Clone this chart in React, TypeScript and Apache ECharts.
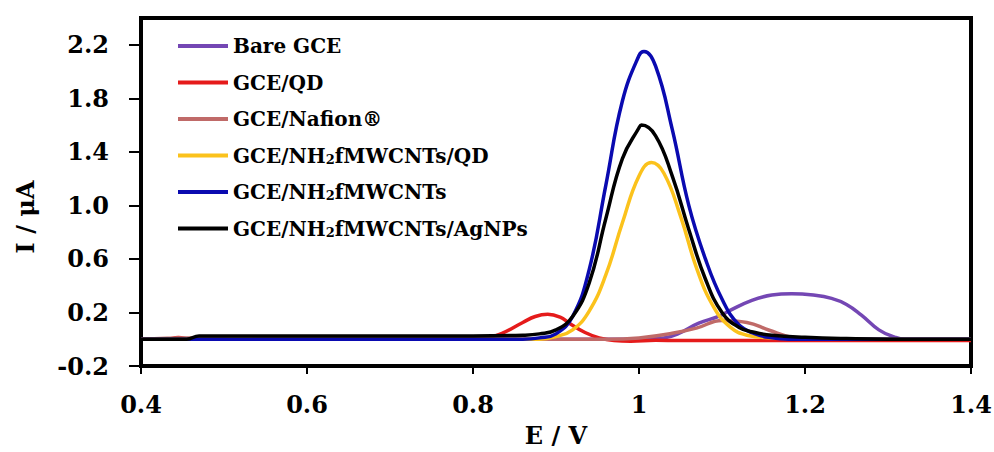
import React, { useEffect, useRef } from "react";
import * as echarts from "echarts";

// ---- Data ----
const xTicks = [0.4, 0.6, 0.8, 1.0, 1.2, 1.4];
const yTicks = [-0.2, 0.2, 0.6, 1.0, 1.4, 1.8, 2.2];

const seriesNames = [
  "Bare GCE",
  "GCE/QD",
  "GCE/Nafion®",
  "GCE/NH2fMWCNTs/QD",
  "GCE/NH2fMWCNTs",
  "GCE/NH2fMWCNTs/AgNPs",
];
const seriesColors = ["#7447b4", "#e51b1b", "#c06a68", "#fbc21c", "#0a0ab0", "#000000"];

const bareE = [0.40, 0.60, 0.80, 0.95, 1.00, 1.03, 1.048, 1.072, 1.096, 1.108, 1.136, 1.16, 1.184, 1.21, 1.232, 1.25, 1.268, 1.289, 1.308, 1.32, 1.35, 1.40];
const bareI = [0, 0, 0, 0, 0, 0.01, 0.044, 0.12, 0.17, 0.21, 0.29, 0.33, 0.34, 0.33, 0.305, 0.26, 0.18, 0.07, 0.016, 0, 0, 0];

const qdE = [0.40, 0.43, 0.445, 0.46, 0.60, 0.80, 0.82, 0.835, 0.86, 0.875, 0.89, 0.905, 0.916, 0.935, 0.952, 0.97, 0.99, 1.02, 1.05, 1.20, 1.40];
const qdI = [0, 0, 0.012, 0, 0, 0.005, 0.015, 0.044, 0.125, 0.17, 0.186, 0.165, 0.12, 0.05, 0.01, -0.01, -0.015, -0.008, -0.01, -0.01, -0.01];

const nafionE = [0.40, 0.44, 0.46, 0.48, 0.60, 0.80, 0.96, 1.00, 1.04, 1.07, 1.10, 1.13, 1.157, 1.184, 1.21, 1.40];
const nafionI = [0, 0.008, 0.01, 0, 0, 0, 0, 0.01, 0.044, 0.085, 0.14, 0.125, 0.067, 0.014, 0, 0];

const nh2QdE = [0.40, 0.50, 0.52, 0.54, 0.70, 0.88, 0.90, 0.92, 0.94, 0.96, 0.98, 1.00, 1.015, 1.03, 1.05, 1.07, 1.09, 1.11, 1.13, 1.16, 1.20, 1.40];
const nh2QdI = [0, 0, 0.012, 0, 0, 0, 0.02, 0.07, 0.21, 0.48, 0.87, 1.22, 1.32, 1.24, 0.92, 0.52, 0.24, 0.09, 0.03, 0.01, 0, 0];

const nh2E = [0.40, 0.60, 0.80, 0.86, 0.88, 0.90, 0.92, 0.94, 0.96, 0.98, 1.00, 1.006, 1.02, 1.04, 1.06, 1.08, 1.10, 1.12, 1.14, 1.16, 1.18, 1.40];
const nh2I = [0, 0, 0, 0, 0.01, 0.04, 0.17, 0.52, 1.15, 1.78, 2.12, 2.15, 2.04, 1.57, 1.0, 0.6, 0.3, 0.11, 0.04, 0.01, 0, 0];

const agE = [0.40, 0.455, 0.47, 0.60, 0.80, 0.86, 0.88, 0.90, 0.92, 0.94, 0.96, 0.98, 1.00, 1.003, 1.02, 1.04, 1.06, 1.08, 1.10, 1.12, 1.14, 1.16, 1.20, 1.25, 1.30, 1.40];
const agI = [0, 0, 0.025, 0.025, 0.025, 0.03, 0.04, 0.07, 0.17, 0.42, 0.9, 1.35, 1.58, 1.6, 1.52, 1.22, 0.82, 0.45, 0.2, 0.09, 0.05, 0.03, 0.015, 0.005, 0, 0];

const seriesE = [bareE, qdE, nafionE, nh2QdE, nh2E, agE];
const seriesI = [bareI, qdI, nafionI, nh2QdI, nh2I, agI];

const FONT = '"DejaVu Serif", "Liberation Serif", serif';

export default function App() {
  const ref = useRef<HTMLDivElement>(null);

  useEffect(() => {
    document.body.style.margin = "0";
    if (!ref.current) return;
    const chart = echarts.init(ref.current, undefined, { renderer: "svg" });

    const series = seriesNames.map((name, k) => ({
      name,
      type: "line",
      data: seriesE[k].map((e, i) => [e, seriesI[k][i]]),
      showSymbol: false,
      smooth: 0.45,
      lineStyle: { color: seriesColors[k], width: 3.5 },
      itemStyle: { color: seriesColors[k] },
      z: 2 + k,
    }));

    const option: any = {
      animation: false,
      backgroundColor: "#ffffff",
      grid: {
        left: 141,
        right: 23,
        top: 18,
        bottom: 86,
        show: true,
        borderColor: "#000",
        borderWidth: 4,
        containLabel: false,
        outerBoundsMode: "none",
      },
      legend: {
        orient: "vertical",
        left: 178,
        top: 36,
        padding: 0,
        itemWidth: 50,
        itemHeight: 4,
        itemGap: 16.5,
        icon: "rect",
        data: seriesNames,
        formatter: (n: string) => n.replace("NH2", "NH{sub|2}"),
        textStyle: {
          fontFamily: FONT,
          fontWeight: "bold",
          fontSize: 20,
          color: "#000",
          rich: {
            sub: {
              fontFamily: FONT,
              fontWeight: "bold",
              fontSize: 13,
              color: "#000",
              verticalAlign: "bottom",
              lineHeight: 13,
            },
          },
        },
      },
      xAxis: {
        type: "value",
        min: 0.4,
        max: 1.4,
        interval: 0.2,
        axisLine: { show: true, onZero: false, lineStyle: { color: "#000", width: 4 } },
        axisTick: { show: true, length: 8, customValues: xTicks, lineStyle: { color: "#000", width: 2 } },
        axisLabel: {
          customValues: xTicks,
          formatter: (v: number) => String(Math.round(v * 10) / 10),
          fontFamily: FONT,
          fontWeight: "bold",
          fontSize: 24,
          color: "#000",
          margin: 26,
        },
        splitLine: { show: false },
        name: "E / V",
        nameLocation: "middle",
        nameGap: 57,
        nameTextStyle: { fontFamily: FONT, fontWeight: "bold", fontSize: 24, color: "#000" },
      },
      yAxis: {
        type: "value",
        min: -0.2,
        max: 2.4,
        interval: 0.4,
        axisLine: { show: true, onZero: false, lineStyle: { color: "#000", width: 4 } },
        axisTick: { show: true, length: 12, customValues: yTicks, lineStyle: { color: "#000", width: 2 } },
        axisLabel: {
          customValues: yTicks,
          formatter: (v: number) => v.toFixed(1),
          fontFamily: FONT,
          fontWeight: "bold",
          fontSize: 24,
          color: "#000",
          margin: 32,
        },
        splitLine: { show: false },
      },
      graphic: [
        {
          type: "text",
          x: 25,
          y: 217,
          rotation: Math.PI / 2,
          style: {
            text: "I / μA",
            fontFamily: FONT,
            fontWeight: "bold",
            fontSize: 24,
            fill: "#000",
            align: "center",
            verticalAlign: "middle",
          },
        },
      ],
      series,
    };

    chart.setOption(option);
    return () => chart.dispose();
  }, []);

  return <div ref={ref} style={{ width: 994, height: 452 }} />;
}
